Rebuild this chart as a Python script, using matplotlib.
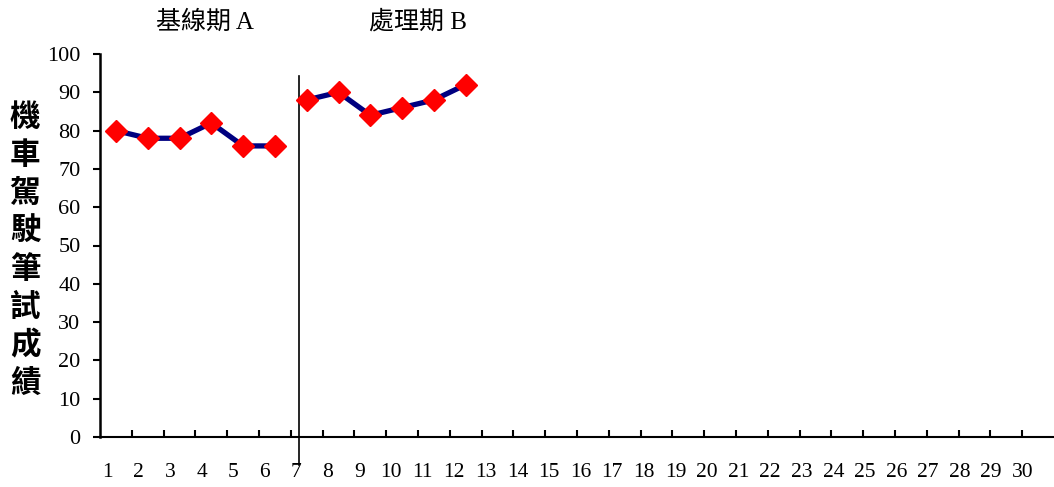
import matplotlib
matplotlib.use("Agg")
import matplotlib.pyplot as plt

# ==========================================================
# Data
# ==========================================================

sessions = list(range(1, 31))

baseline_x = [1, 2, 3, 4, 5, 6]
baseline_y = [80, 78, 78, 82, 76, 76]

treatment_x = [7, 8, 9, 10, 11, 12]
treatment_y = [88, 90, 84, 86, 88, 92]

phase_labels = ["基線期 A", "處理期 B"]
y_label = "機車駕駛筆試成績"
y_ticks = list(range(0, 101, 10))

NAVY = "#000080"
RED = "#FF0000"
SERIF = ["Liberation Serif", "Noto Sans CJK TC"]

# ==========================================================
# Figure
# ==========================================================

fig = plt.figure(figsize=(10.54, 4.87), dpi=100)
ax = fig.add_axes([100 / 1054, 1 - 437 / 487, 954 / 1054, 383 / 487])

for xs, ys in [(baseline_x, baseline_y), (treatment_x, treatment_y)]:
    ax.plot(xs, ys, color=NAVY, linewidth=3.8, marker="D",
            markersize=11.5, markerfacecolor=RED, markeredgecolor=RED,
            zorder=3, clip_on=False)

ax.set_xlim(0.5, 30.5)
ax.set_ylim(0, 100)

# phase change line
ax.plot([6.76, 6.76], [94.3, -7.4], color="black", linewidth=1.2,
        clip_on=False, zorder=2)

# ----------------------------------------------------------
# Axes styling
# ----------------------------------------------------------

for side in ["top", "right"]:
    ax.spines[side].set_visible(False)
ax.spines["left"].set_linewidth(1.8)
ax.spines["bottom"].set_linewidth(1.5)

ax.set_yticks(y_ticks)
ax.set_yticklabels([str(v) for v in y_ticks], family="Liberation Serif",
                   fontsize=16)
ax.tick_params(axis="y", direction="out", length=5, width=1.5, pad=9)

ax.set_xticks([])
ax.set_xticks([s + 0.5 for s in sessions[:-1]], minor=True)
ax.tick_params(axis="x", which="minor", direction="in", length=5, width=1.5)

# session labels (slightly shifted left, like the source)
for i, s in enumerate(sessions):
    ax.text(0.72 + i * 0.993, -9.3, str(s), ha="center", va="center",
            family="Liberation Serif", fontsize=15.5, clip_on=False)

# phase titles
ax.text(3.8, 108.3, phase_labels[0], ha="center", va="center",
        family=SERIF, fontsize=18)
ax.text(10.5, 108.3, phase_labels[1], ha="center", va="center",
        family=SERIF, fontsize=18)

# vertical y label, one character per line
for i, ch in enumerate(y_label):
    fig.text(25 / 1054, 1 - (117 + i * 38) / 487, ch, ha="center",
             va="center", family="Noto Sans CJK TC", fontweight="bold",
             fontsize=22)

fig.savefig("out.png", dpi=100)
